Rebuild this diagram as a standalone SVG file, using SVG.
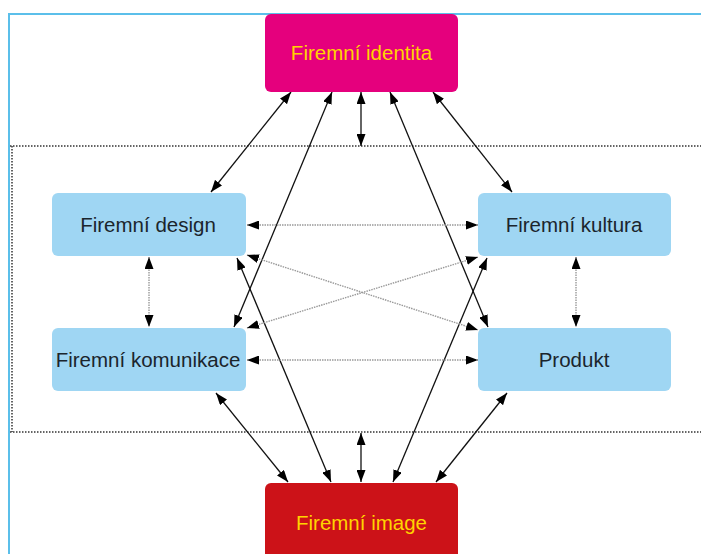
<svg xmlns="http://www.w3.org/2000/svg" width="701" height="554" viewBox="0 0 701 554">
<defs>
<marker id="ah" viewBox="0 0 12 9" refX="12" refY="4.5" markerWidth="12" markerHeight="9" markerUnits="userSpaceOnUse" orient="auto-start-reverse">
<path d="M0,0 L12,4.5 L0,9 z" fill="#000"/>
</marker>
<style>
.box{fill:#9fd6f3}
.lbl{font-family:"Liberation Sans",Arial,sans-serif;font-size:20.5px;text-anchor:middle;fill:#1b252c}
.ylbl{font-family:"Liberation Sans",Arial,sans-serif;font-size:20.5px;text-anchor:middle;fill:#ffd400}
.solid{stroke:#111;stroke-width:1.3;fill:none;marker-start:url(#ah);marker-end:url(#ah)}
.dot{stroke:#999;stroke-width:1.4;stroke-dasharray:1.5 1;fill:none;marker-start:url(#ah);marker-end:url(#ah)}
.sep{stroke:#333;stroke-width:1.5;stroke-dasharray:1.5 1.5;fill:none}
</style>
</defs>
<rect width="701" height="554" fill="#fff"/>
<g id="frame">
<path d="M9,554 L9,14 L701,14" stroke="#5bbfea" stroke-width="2" fill="none"/>
<line class="sep" x1="10" y1="146" x2="701" y2="146"/>
<line class="sep" x1="10" y1="432" x2="701" y2="432"/>
<line class="sep" x1="12" y1="146" x2="12" y2="432"/>
</g>
<g id="connectors">
<line class="solid" x1="291" y1="92" x2="211" y2="192"/>
<line class="solid" x1="332" y1="92" x2="234" y2="327"/>
<line class="solid" x1="361" y1="92" x2="361" y2="146"/>
<line class="solid" x1="390" y1="92" x2="488" y2="327"/>
<line class="solid" x1="433" y1="92" x2="512" y2="192"/>
<line class="solid" x1="216" y1="393" x2="288" y2="482"/>
<line class="solid" x1="237" y1="258" x2="331" y2="482"/>
<line class="solid" x1="361" y1="433" x2="361" y2="482"/>
<line class="solid" x1="487" y1="258" x2="393" y2="482"/>
<line class="solid" x1="507" y1="393" x2="436" y2="482"/>
<line class="dot" x1="247" y1="225" x2="478" y2="225"/>
<line class="dot" x1="247" y1="360" x2="478" y2="360"/>
<line class="dot" x1="247" y1="255" x2="478" y2="330"/>
<line class="dot" x1="247" y1="328" x2="478" y2="257"/>
<line class="dot" x1="149" y1="257" x2="149" y2="327"/>
<line class="dot" x1="576" y1="257" x2="576" y2="327"/>
</g>
<g id="identita">
<rect x="265" y="14" width="193" height="78" rx="6" fill="#e5007d"/>
<text class="ylbl" x="361.5" y="60">Firemní identita</text>
</g>
<g id="design">
<rect class="box" x="52" y="193" width="194" height="63" rx="6"/>
<text class="lbl" x="148" y="232">Firemní design</text>
</g>
<g id="kultura">
<rect class="box" x="478" y="193" width="193" height="63" rx="6"/>
<text class="lbl" x="574" y="232">Firemní kultura</text>
</g>
<g id="komunikace">
<rect class="box" x="52" y="328" width="194" height="63" rx="6"/>
<text class="lbl" x="148" y="367">Firemní komunikace</text>
</g>
<g id="produkt">
<rect class="box" x="478" y="328" width="193" height="63" rx="6"/>
<text class="lbl" x="574" y="367">Produkt</text>
</g>
<g id="image">
<rect x="265" y="483" width="193" height="85" rx="6" fill="#cc1218"/>
<text class="ylbl" x="361.5" y="530">Firemní image</text>
</g>
</svg>
